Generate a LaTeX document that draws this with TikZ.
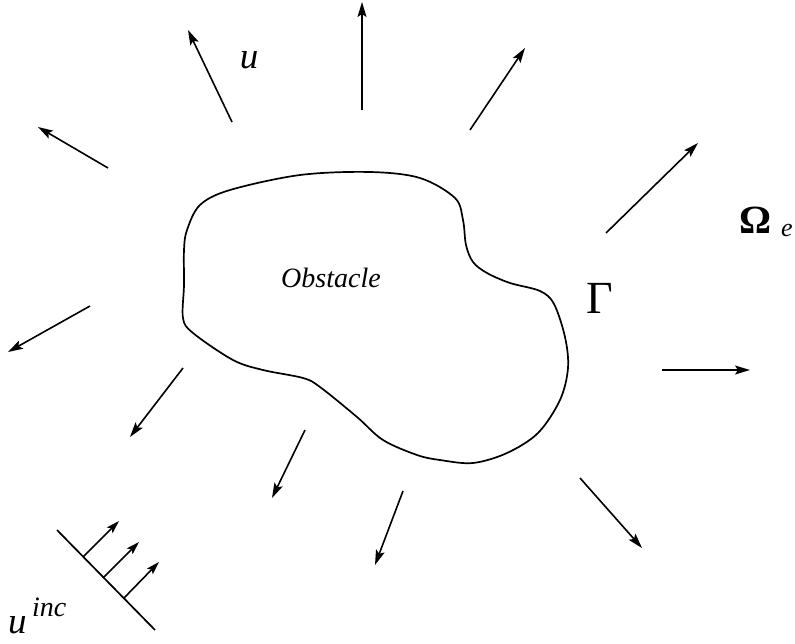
\documentclass[tikz,border=0pt]{standalone}
\usepackage{fontspec}
\setmainfont{Liberation Serif}
\usetikzlibrary{arrows.meta}
\begin{document}
\begin{tikzpicture}[x=1pt,y=-1pt,
  ray/.style={line width=1.6pt,-{Stealth[length=15pt,width=9pt,inset=3pt]}},
  incray/.style={line width=1.6pt,-{Stealth[length=13pt,width=8pt,inset=2.5pt]}},
  bnd/.style={line width=1.7pt},
  lbl/.style={inner sep=0pt,anchor=base}]
\useasboundingbox (0,0) rectangle (795,643);
% obstacle boundary
\draw[bnd] plot[smooth cycle,tension=0.55] coordinates {
 (183,318) (184,285) (184,250) (187,230) (200,205) (230,190) (300,175) (370,172)
 (420,178) (455,198) (463,220) (466,245) (473,262) (487,273) (510,283) (540,291)
 (554,304) (565,337) (568,368) (560,400) (538,433) (507,453) (473,463) (440,460)
 (417,455) (383,440) (357,417) (320,387) (303,378) (263,370) (233,360) (193,333)};
% outgoing rays
\foreach \n/\tx/\ty/\hx/\hy in {
  a/232/122/188/30, b/362/110/362/2, c/470/130/525/48, d/606/233/698/143,
  e/108/168/38/127, f/90/306/8/352, g/183/368/130/437, h/305/430/272/498,
  i/403/491/375/565, j/580/478/642/548, k/662/370/750/370}{
  \coordinate (t\n) at (\tx,\ty);
  \coordinate (h\n) at (\hx,\hy);
  \draw[ray] (t\n) -- (h\n);
}
% incident wave front
\coordinate (w1) at (57,530);
\coordinate (w2) at (155,630);
\draw[bnd] (w1) -- (w2);
\foreach \n/\tx/\ty/\hx/\hy in {p/83/557/119/521, q/103/578/139/542, r/124/598/159/562}{
  \coordinate (t\n) at (\tx,\ty);
  \coordinate (h\n) at (\hx,\hy);
  \draw[incray] (t\n) -- (h\n);
}
% labels
\node[lbl,font=\fontsize{28}{30}\selectfont\itshape] (obst) at (331,287) {Obstacle};
\node[lbl,font=\fontsize{37}{40}\selectfont\itshape] (ulab) at (249,68) {u};
\node[lbl,font=\fontsize{40}{44}\selectfont\bfseries,anchor=base west] (omega) at (739,233) {Ω};
\node[lbl,font=\fontsize{26}{28}\selectfont\itshape,anchor=base west] (esub) at (781,236) {e};
\node[lbl,font=\fontsize{46}{48}\selectfont,anchor=base west] (gamma) at (586,313) {Γ};
\node[lbl,font=\fontsize{37}{40}\selectfont\itshape,anchor=base west] (uinc) at (8,633) {u};
\node[lbl,font=\fontsize{28}{30}\selectfont\itshape,anchor=base west] (inc) at (32,616) {inc};
\end{tikzpicture}
\end{document}
